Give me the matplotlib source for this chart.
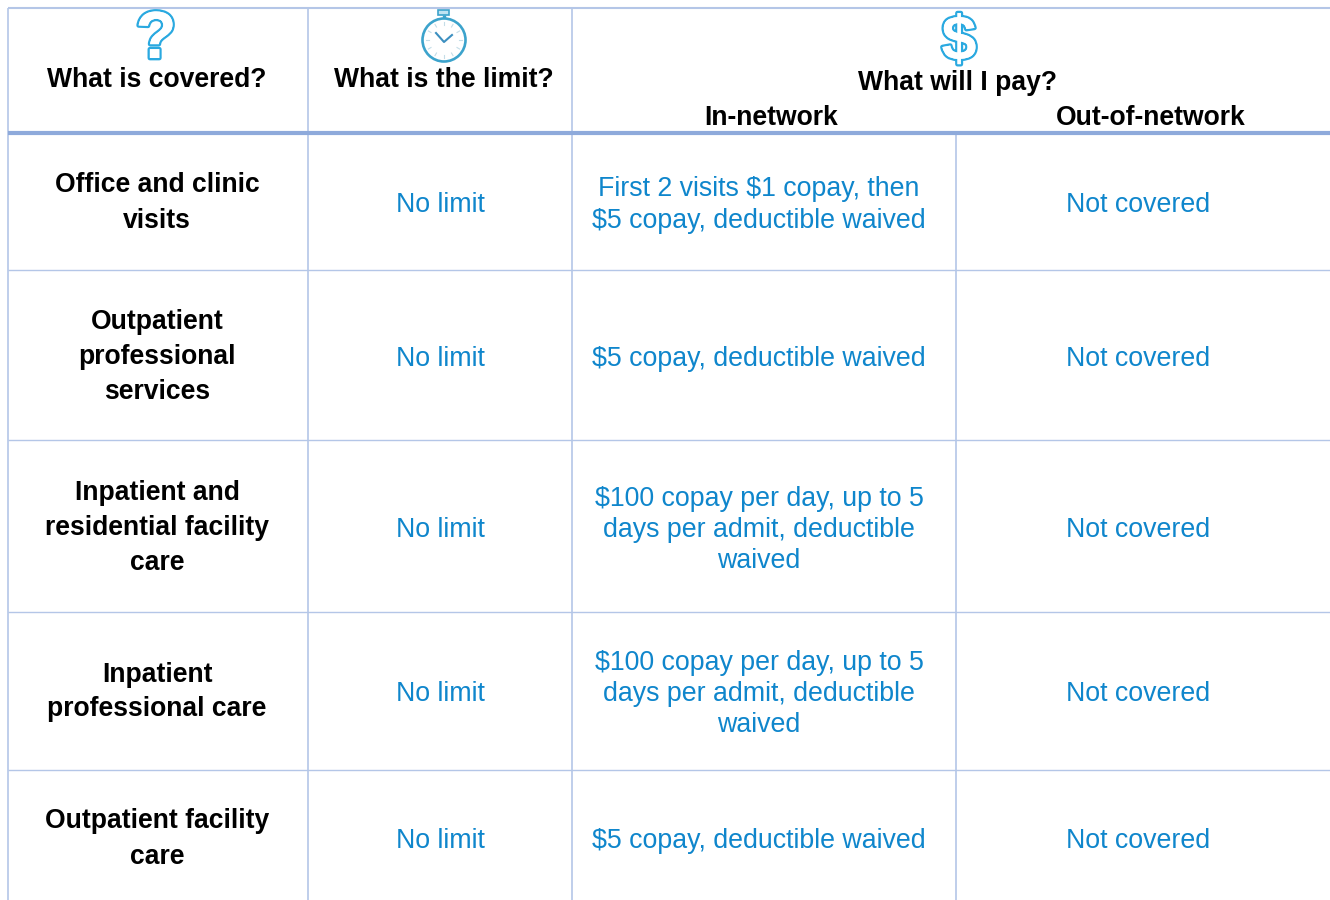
import matplotlib
matplotlib.use("Agg")
import matplotlib.pyplot as plt
import matplotlib.patheffects as pe
from matplotlib.patches import Circle, Rectangle
import math

plt.rcParams['font.family'] = ['Liberation Sans', 'DejaVu Sans']

rows = ["Office and clinic\nvisits", "Outpatient\nprofessional\nservices",
        "Inpatient and\nresidential facility\ncare", "Inpatient\nprofessional care",
        "Outpatient facility\ncare"]
limits = ["No limit", "No limit", "No limit", "No limit", "No limit"]
in_network = ["First 2 visits $1 copay, then\n$5 copay, deductible waived",
              "$5 copay, deductible waived",
              "$100 copay per day, up to 5\ndays per admit, deductible\nwaived",
              "$100 copay per day, up to 5\ndays per admit, deductible\nwaived",
              "$5 copay, deductible waived"]
out_network = ["Not covered", "Not covered", "Not covered", "Not covered", "Not covered"]

row_centers = [200, 354, 525, 689, 836]
row_lines = [270, 440, 612, 770]
col_lines = [8, 308, 572]
blue = '#0F86CC'
line_c = '#B4C6E7'
head_c = '#8EAADB'
icon_c = '#2AA9E0'
clock_c = '#3CA3CC'
fs = 19.1
fs_blue = 19.3

fig = plt.figure(figsize=(13.3, 9), dpi=100)
ax = fig.add_axes([0, 0, 1, 1])
ax.set_xlim(0, 1330)
ax.set_ylim(900, 0)
ax.axis('off')

# grid
ax.plot([8, 1330], [8, 8], color=line_c, lw=1.5, solid_capstyle='butt')
for x in col_lines:
  ax.plot([x, x], [8, 900], color=line_c, lw=1.2, solid_capstyle='butt')
ax.plot([956, 956], [132, 900], color=line_c, lw=1.2, solid_capstyle='butt')
for y in row_lines:
  ax.plot([8, 1330], [y, y], color=line_c, lw=1.0, solid_capstyle='butt')
ax.plot([8, 1330], [132.5, 132.5], color=head_c, lw=3, solid_capstyle='butt')

# header
ax.text(157, 80, "What is covered?", fontsize=fs, weight='bold', ha='center', va='center')
ax.text(444, 80, "What is the limit?", fontsize=fs, weight='bold', ha='center', va='center')
ax.text(958, 83, "What will I pay?", fontsize=fs, weight='bold', ha='center', va='center')
ax.text(771, 118, "In-network", fontsize=fs, weight='bold', ha='center', va='center')
ax.text(1151, 118, "Out-of-network", fontsize=fs, weight='bold', ha='center', va='center')

# icons
outline = [pe.withStroke(linewidth=3.4, foreground=icon_c), pe.Normal()]
narrow = ['Liberation Sans Narrow', 'Liberation Sans']
ax.text(156, 41, "?", fontsize=48, color='white', weight='bold', family=narrow,
        ha='center', va='center', path_effects=outline)
ax.text(959, 43, "$", fontsize=45, color='white', weight='bold', family=narrow,
        ha='center', va='center', path_effects=outline)
ax.add_patch(Circle((444, 40), 21.5, fill=False, ec=clock_c, lw=1.9))
ax.add_patch(Rectangle((438, 10), 11, 5, fill=True, fc='#BFE3F2', ec=clock_c, lw=1.2))
ax.plot([444, 444], [15, 18], color=clock_c, lw=2.4, solid_capstyle='butt')
ax.plot([436, 444, 452], [33, 42, 35], color='#3C8FC0', lw=1.5)
for h in range(12):
  a = math.radians(h * 30)
  ax.plot([444 + 15 * math.sin(a), 444 + 18 * math.sin(a)],
          [40 - 15 * math.cos(a), 40 - 18 * math.cos(a)], color='#C5DDE8', lw=0.8)

# body
for i, y in enumerate(row_centers):
  ax.text(157, y + 3, rows[i], fontsize=fs, weight='bold', ha='center', va='center',
          multialignment='center', linespacing=1.45)
  ax.text(440, y + 5, limits[i], fontsize=fs_blue, color=blue, ha='center', va='center')
  ax.text(759, y + 5, in_network[i], fontsize=fs_blue, color=blue, ha='center', va='center',
          multialignment='center', linespacing=1.25)
  ax.text(1138, y + 5, out_network[i], fontsize=fs_blue, color=blue, ha='center', va='center')

fig.savefig('out.png', dpi=100)
